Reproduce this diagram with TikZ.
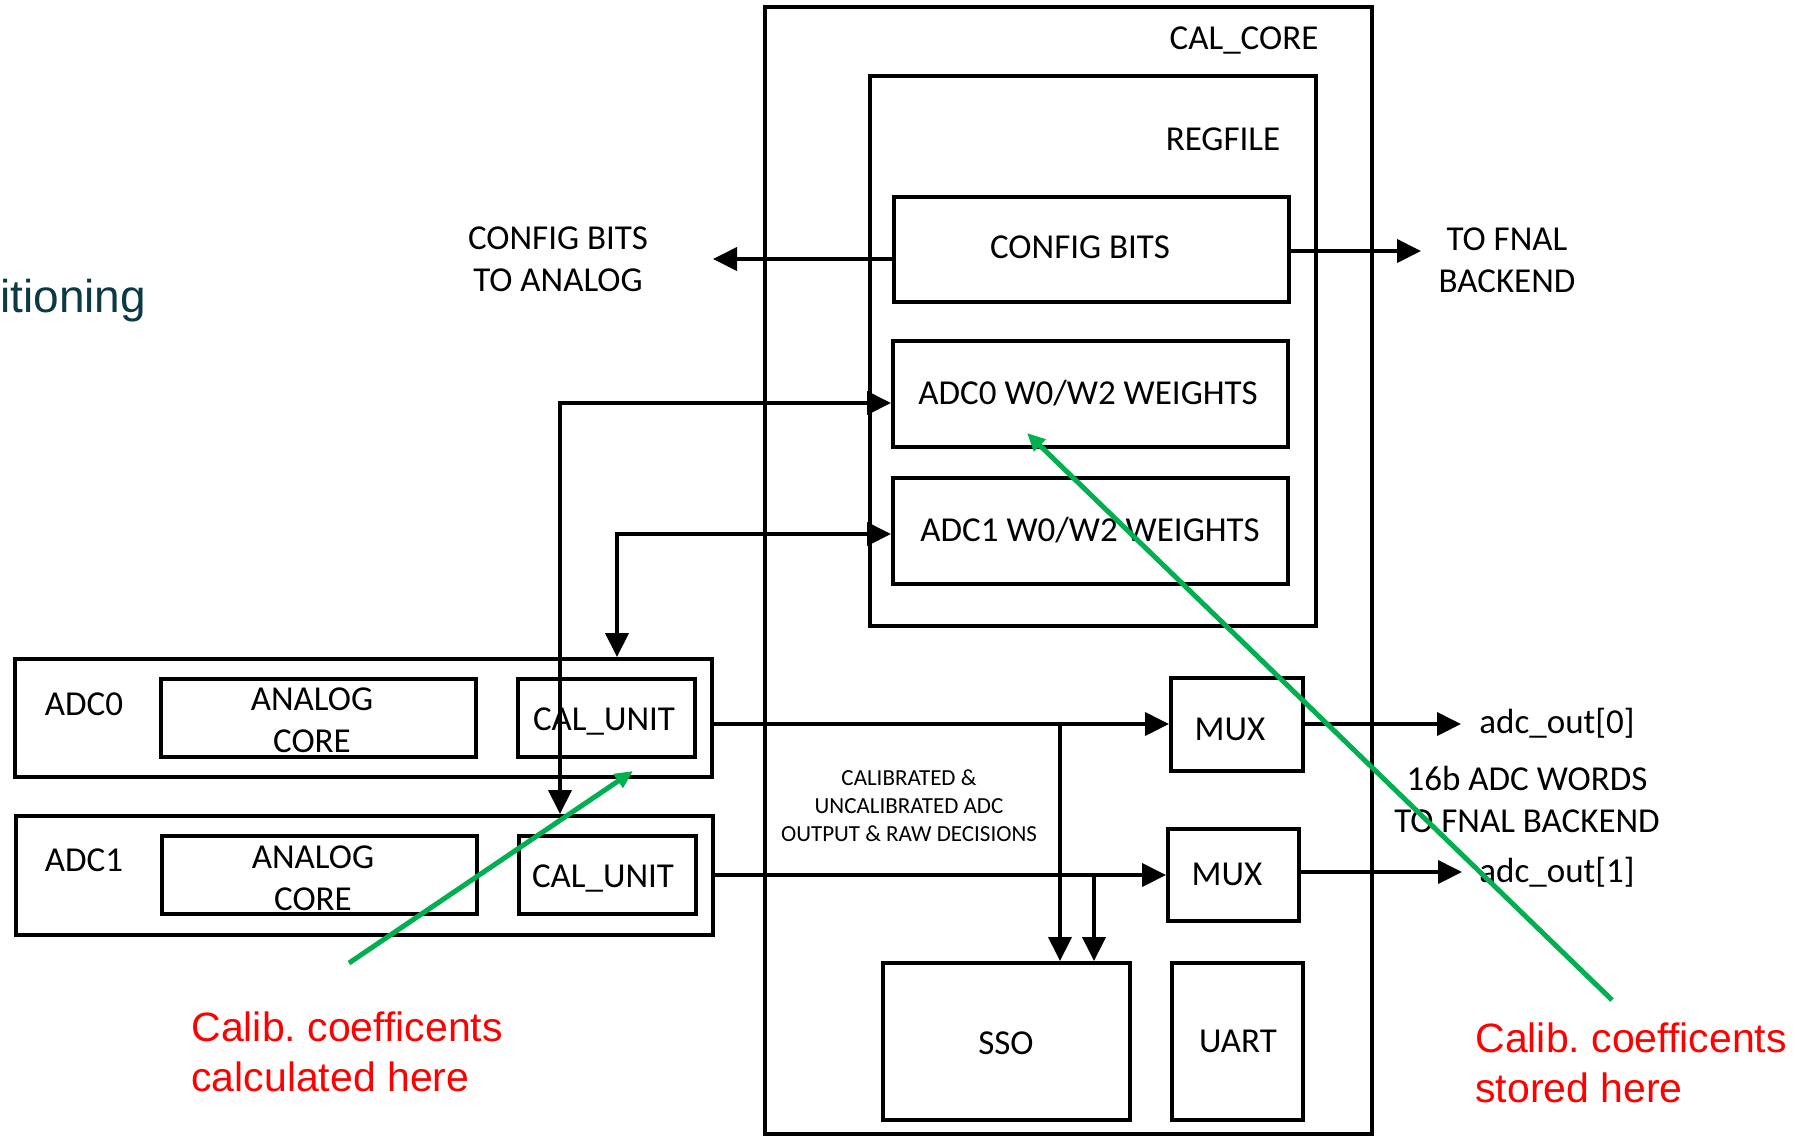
\documentclass[tikz,border=0pt]{standalone}
\usepackage{fontspec}
\setmainfont{Carlito}
\newfontfamily\arialfont{Liberation Sans}
\usetikzlibrary{arrows.meta,fit}
\definecolor{cgreen}{HTML}{00B050}
\definecolor{cred}{HTML}{FF0000}
\definecolor{cteal}{HTML}{0B3A45}
\begin{document}
\begin{tikzpicture}[x=0.5pt,y=-0.5pt,
 box/.style={draw, line width=2pt, inner sep=0pt},
 lbl/.style={inner sep=0pt, align=center, font=\fontsize{17.5pt}{21pt}\selectfont},
 small/.style={inner sep=0pt, align=center, font=\fontsize{11.5pt}{14pt}\selectfont},
 wire/.style={line width=2pt},
 arr/.style={wire, -{Triangle[length=12pt,width=11.5pt]}},
 darr/.style={wire, {Triangle[length=12pt,width=11.5pt]}-{Triangle[length=12pt,width=11.5pt]}},
 garr/.style={draw=cgreen, line width=2.5pt, -{Triangle[length=9pt,width=8pt]}},
 note/.style={inner sep=0pt, align=left, text=cred, font=\arialfont\frenchspacing\fontsize{20.5pt}{25pt}\selectfont},
]
\useasboundingbox (0,0) rectangle (1798,1137);

% CAL_CORE and REGFILE
\node[box, fit={(765,7) (1372,1134)}] (calcore) {};
\node[lbl] (calcorelbl) at (1244,40) {CAL\_CORE};
\node[box, fit={(870,76) (1316,626)}] (regfile) {};
\node[lbl] (regfilelbl) at (1223,139) {REGFILE};
\node[box, fit={(894,197) (1289,302)}] (cfg) {};
\node[lbl] (cfgtxt) at (1080,247) {CONFIG BITS};
\node[box, fit={(893,341) (1288,447)}] (w0) {};
\node[lbl] (w0txt) at (1088,393) {ADC0 W0/W2 WEIGHTS};
\node[box, fit={(893,478) (1288,584)}] (w1) {};
\node[lbl] (w1txt) at (1090,530) {ADC1 W0/W2 WEIGHTS};
\node[box, fit={(1171,678) (1303,771)}] (mux0) {};
\node[lbl] (mux0txt) at (1230,729) {MUX};
\node[box, fit={(1168,829) (1299,921)}] (mux1) {};
\node[lbl] (mux1txt) at (1227,874) {MUX};
\node[box, fit={(883,963) (1130,1120)}] (sso) {};
\node[lbl] (ssotxt) at (1006,1043) {SSO};
\node[box, fit={(1172,963) (1303,1120)}] (uart) {};
\node[lbl] (uarttxt) at (1238,1041) {UART};
\node[small] (caltxt) at (909,806) {CALIBRATED \&\\UNCALIBRATED ADC\\OUTPUT \& RAW DECISIONS};

% ADCs
\node[box, fit={(15,659) (712,777)}] (adc0) {};
\node[lbl] (adc0lbl) at (84,704) {ADC0};
\node[box, fit={(161,679) (476,757)}] (ac0) {};
\node[lbl] (ac0txt) at (312,720) {ANALOG\\CORE};
\node[box, fit={(518,679) (695,757)}] (cu0) {};
\node[lbl] (cu0txt) at (604,721) {CAL\_UNIT};
\node[box, fit={(16,816) (713,935)}] (adc1) {};
\node[lbl] (adc1lbl) at (84,860) {ADC1};
\node[box, fit={(162,836) (477,914)}] (ac1) {};
\node[lbl] (ac1txt) at (313,878) {ANALOG\\CORE};
\node[box, fit={(519,836) (696,914)}] (cu1) {};
\node[lbl] (cu1txt) at (603,878) {CAL\_UNIT};

% free labels
\node[lbl] (cfgana) at (558,259) {CONFIG BITS\\TO ANALOG};
\node[lbl] (tofnal) at (1507,260) {TO FNAL\\BACKEND};
\node[lbl] (out0) at (1557,723) {adc\_out[0]};
\node[lbl] (out1) at (1557,872) {adc\_out[1]};
\node[lbl] (words) at (1527,799) {16b ADC WORDS\\TO FNAL BACKEND};
\node[anchor=base west, inner sep=0pt, text=cteal, font=\arialfont\fontsize{23pt}{28pt}\selectfont] (title) at (0,312) {itioning};

% coordinates
\coordinate (cbL) at (713,259);
\coordinate (fnalR) at (1421,251);
\coordinate (jA) at (560,403);
\coordinate (jB) at (617,534);
\coordinate (bC) at (1060,724);
\coordinate (bD) at (1094,875);
\coordinate (o0) at (1461,724);
\coordinate (o1) at (1462,872);

% connectors
\draw[arr] (cfg.west |- cbL) -- (cbL);
\draw[arr] (cfg.east |- fnalR) -- (fnalR);
\draw[darr] (adc1.north -| jA) -- (jA) -- (w0.west |- jA);
\draw[darr] (adc0.north -| jB) -- (jB) -- (w1.west |- jB);
\draw[arr] (adc0.east |- bC) -- (mux0.west |- bC);
\draw[arr] (bC) -- (bC |- sso.north);
\draw[arr] (adc1.east |- bD) -- (mux1.west |- bD);
\draw[arr] (bD) -- (bD |- sso.north);
\draw[arr] (mux0.east |- o0) -- (o0);
\draw[arr] (mux1.east |- o1) -- (o1);

% notes
\node[note, anchor=west] (note1) at (191,1052) {Calib. coefficents\\calculated here};
\node[note, anchor=west] (note2) at (1475,1063) {Calib. coefficents\\stored here};
\coordinate (g1s) at (349,963);
\coordinate (g1e) at (633,771);
\coordinate (g2s) at (1612,1000);
\coordinate (g2e) at (1027,433);
\draw[garr] (g1s) -- (g1e);
\draw[garr] (g2s) -- (g2e);
\end{tikzpicture}
\end{document}
